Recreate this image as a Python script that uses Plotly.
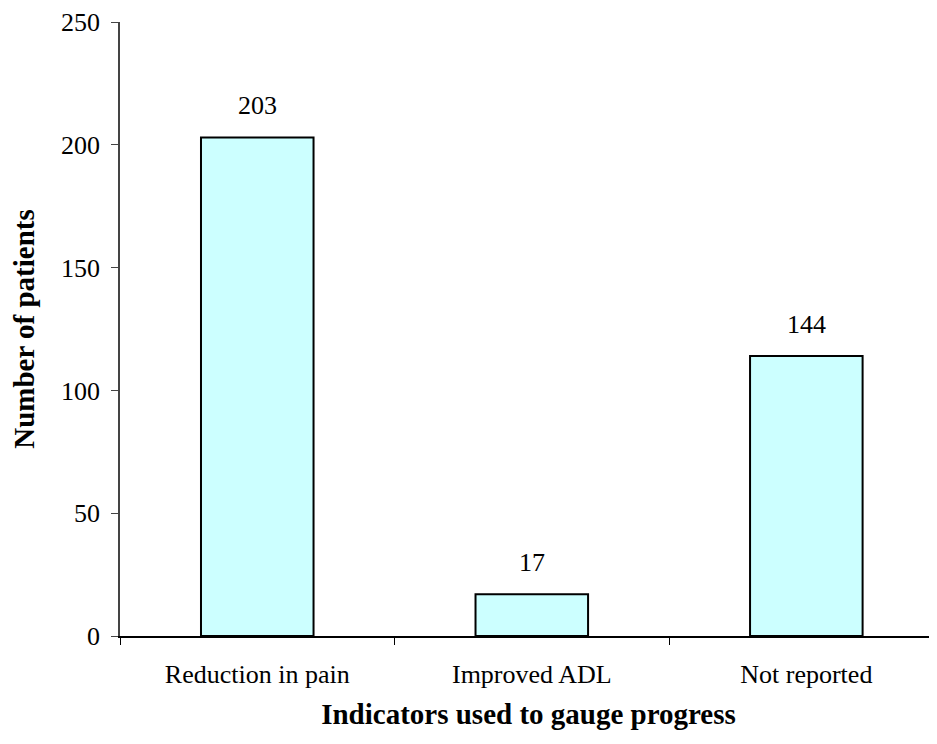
import plotly.graph_objects as go

categories = ["Reduction in pain", "Improved ADL", "Not reported"]
values = [203, 17, 114]
value_labels = ["203", "17", "144"]
y_ticks = [0, 50, 100, 150, 200, 250]

FONT = "Liberation Serif"

fig = go.Figure()
fig.add_trace(go.Bar(
    x=categories,
    y=values,
    width=0.41,
    marker=dict(color="#CCFFFF", line=dict(color="black", width=2)),
    showlegend=False,
))

for c, v, t in zip(categories, values, value_labels):
    fig.add_annotation(x=c, y=v, text=t, showarrow=False, yanchor="bottom",
                       yshift=15, font=dict(family=FONT, size=26, color="black"))

# the page body keeps its default 8px margin, so the figure is shrunk to fit
fig.update_layout(
    width=929, height=736,
    margin=dict(l=112, r=0, t=14, b=108),
    paper_bgcolor="white", plot_bgcolor="white",
    font=dict(family=FONT, size=26, color="black"),
)
fig.update_xaxes(
    type="category",
    range=[-0.5, 2.476],
    automargin=False,
    showline=True, linecolor="black", linewidth=1.5,
    ticks="outside", tickson="boundaries", ticklen=7, tickcolor="black", tickwidth=1,
    showgrid=False, zeroline=False,
    tickfont=dict(family=FONT, size=26, color="black"),
    ticklabelstandoff=14,
    title=dict(text="<b>Indicators used to gauge progress</b>", standoff=16,
               font=dict(family=FONT, size=29, color="black")),
)
fig.update_yaxes(
    range=[0, 250],
    tickvals=y_ticks,
    automargin=False,
    showline=True, linecolor="#444444", linewidth=1.5,
    ticks="outside", ticklen=7, tickcolor="#444444", tickwidth=1,
    showgrid=False, zeroline=False,
    tickfont=dict(family=FONT, size=26, color="black"),
    ticklabelstandoff=6,
    title=dict(text="<b>Number of patients</b>", standoff=20,
               font=dict(family=FONT, size=29, color="black")),
)

fig.write_html("out.html")
